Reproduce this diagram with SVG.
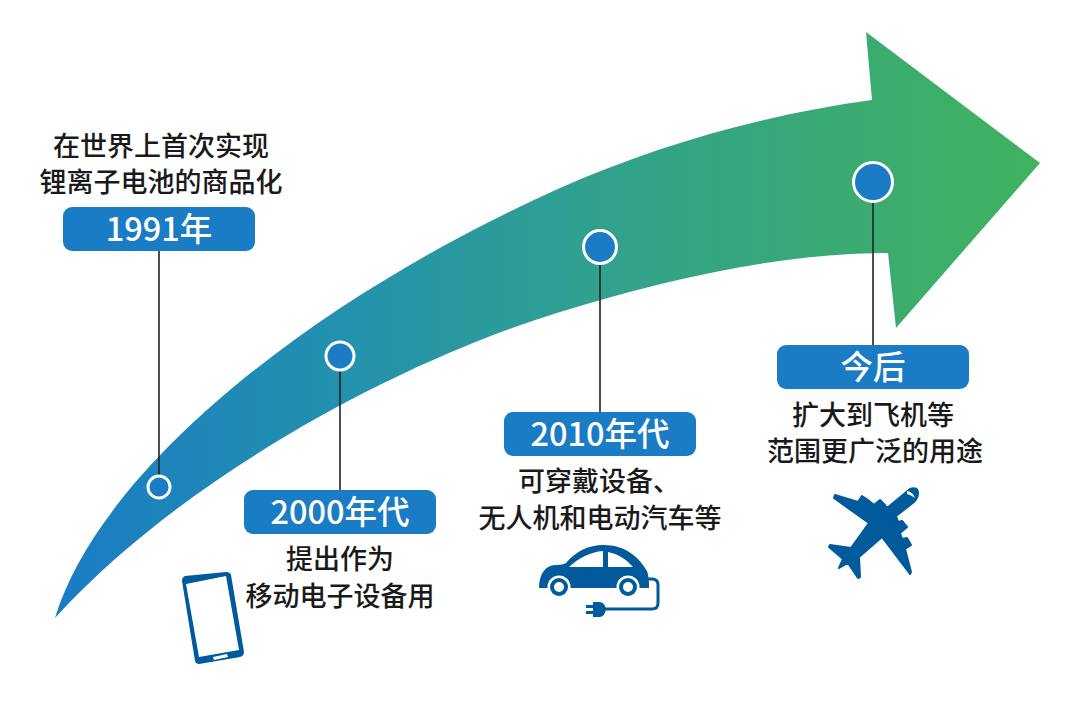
<svg xmlns="http://www.w3.org/2000/svg" width="1080" height="720" viewBox="0 0 1080 720">
<style>
text{font-family:"Noto Sans CJK SC","Noto Sans",sans-serif;text-anchor:middle;font-weight:500}
.cap{font-size:27px;fill:#1a1a1a}
.tag{font-size:32.5px;fill:#fff}
.pill{fill:#1a7cc4}
.dot{fill:#1a7cc4;stroke:#fff;stroke-width:3}
.lead{stroke:#222;stroke-width:1.6;fill:none}
.ico{fill:#005a9c}
.gap{fill:#fff}
</style>
<defs>
<linearGradient id="band" gradientUnits="userSpaceOnUse" x1="55" y1="0" x2="1040" y2="0">
<stop offset="0" stop-color="#1a7cc4"/>
<stop offset="0.3" stop-color="#2392ad"/>
<stop offset="0.55" stop-color="#31a18e"/>
<stop offset="0.8" stop-color="#3aaa73"/>
<stop offset="1" stop-color="#40b25f"/>
</linearGradient>
</defs>
<path id="sweep" fill="url(#band)" d="M55 618C100 470 310 300 560 188C650 148 760 115 872 100L866 32L1040 163L896 328L888 253C790 253 680 275 560 312C410 358 190 470 55 618Z"/>
<g id="connectors">
<line class="lead" x1="159" y1="250" x2="159" y2="487"/>
<line class="lead" x1="340" y1="356" x2="340" y2="490"/>
<line class="lead" x1="600" y1="247" x2="600" y2="412"/>
<line class="lead" x1="873" y1="182" x2="873" y2="345"/>
</g>
<g id="node-1991">
<circle class="dot" cx="159" cy="487" r="11"/>
<text class="cap" x="161" y="156">在世界上首次实现</text>
<text class="cap" x="161" y="192">锂离子电池的商品化</text>
<rect class="pill" x="63" y="207" width="192" height="44" rx="9"/>
<text class="tag" x="159" y="241">1991年</text>
</g>
<g id="node-2000">
<circle class="dot" cx="340" cy="356" r="14"/>
<rect class="pill" x="244" y="490" width="192" height="44" rx="9"/>
<text class="tag" x="340" y="524">2000年代</text>
<text class="cap" x="340" y="569">提出作为</text>
<text class="cap" x="340" y="606">移动电子设备用</text>
<g id="phone">
<path class="ico" fill-rule="evenodd" d="M185 576L226 572Q230 572 231 575L244 652Q244 656 240 657L199 664Q196 664 195 661L182 581Q182 577 185 576ZM186 584L199 657L239 650L226 576ZM213 657L214 660L228 657L227 654Z"/>
</g>
</g>
<g id="node-2010">
<circle class="dot" cx="600" cy="247" r="16.5"/>
<rect class="pill" x="504" y="412" width="192" height="44" rx="9"/>
<text class="tag" x="600" y="446">2010年代</text>
<text class="cap" x="599" y="491">可穿戴设备、</text>
<text class="cap" x="600" y="528">无人机和电动汽车等</text>
<g id="car">
<path class="ico" fill-rule="evenodd" d="M539 588C539 574 546 565 555 565C558 565 562 565 566 563C576 551 589 545 603 545C625 545 638 556 647 571C649 576 649 582 649 588ZM569 567H603V551C590 552 579 558 569 567ZM608 552V567H633C626 559 618 554 608 552Z"/>
<circle class="gap" cx="559" cy="587" r="11.5"/>
<circle class="gap" cx="628" cy="587" r="11.5"/>
<circle class="ico" cx="559" cy="587" r="9"/>
<circle class="gap" cx="559" cy="587" r="5"/>
<circle class="ico" cx="628" cy="587" r="9"/>
<circle class="gap" cx="628" cy="587" r="5"/>
<path d="M648 579H652Q658 579 658 585V603Q658 609 652 609H603" fill="none" stroke="#005a9c" stroke-width="3"/>
<path class="ico" d="M586 605H593V602H600Q605 603 606 609Q605 616 600 617H593V614H586V611H593V608H586Z"/>
</g>
</g>
<g id="node-next">
<circle class="dot" cx="873" cy="182" r="19.5"/>
<rect class="pill" x="777" y="345" width="192" height="44" rx="9"/>
<text class="tag" x="873" y="379">今后</text>
<text class="cap" x="873" y="425">扩大到飞机等</text>
<text class="cap" x="875" y="461">范围更广泛的用途</text>
<g id="plane">
<path class="ico" stroke="#005a9c" stroke-width="2" stroke-linejoin="round" d="M910 489C915 487 918 489 918 493C918 497 917 499 914 502L896 516L898 522L902 521L907 527L900 533L902 539L907 538L911 545L905 549L911 572L910 574L882 537L859 557L860 577L858 578L848 563L839 568L843 559L829 547L830 545L851 548L869 523L834 498L835 495L858 502L862 496L868 500L874 505L880 500L885 505L887 508Z"/>
<path class="gap" d="M907 491Q913 492 915 498Q911 495 907 494Z"/>
</g>
</g>
</svg>
